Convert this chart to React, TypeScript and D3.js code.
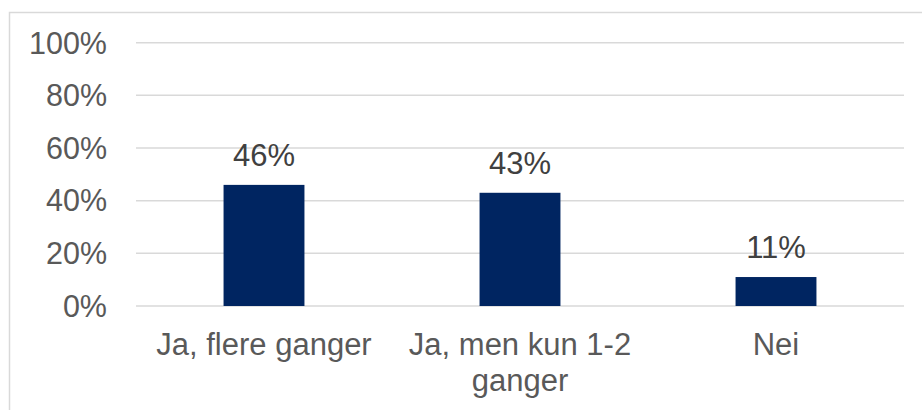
import React from "react";
import * as d3 from "d3";

const categories: string[][] = [["Ja, flere ganger"], ["Ja, men kun 1-2", "ganger"], ["Nei"]];
const values: number[] = [0.46, 0.43, 0.11];
const valueLabels: string[] = ["46%", "43%", "11%"];
const yTicks: number[] = [0, 0.2, 0.4, 0.6, 0.8, 1.0];

const W = 922;
const H = 410;
const FONT = "'Liberation Sans', Arial, sans-serif";

export default function App() {
  const x = d3
    .scaleBand<number>()
    .domain(categories.map((_, i) => i))
    .range([136, 904])
    .paddingInner(0.684)
    .paddingOuter(0.342);
  const y = d3.scaleLinear().domain([0, 1]).range([306, 42.7]);
  const fmt = d3.format(".0%");

  return (
    <svg
      width={W}
      height={H}
      style={{ position: "absolute", left: 0, top: 0, background: "#fff" }}
      fontFamily={FONT}
    >
      <rect x={9.5} y={12.5} width={W + 20} height={H + 20} fill="#fff" stroke="#d9d9d9" strokeWidth={1.5} />
      {yTicks.map((t) => (
        <g key={t}>
          <line x1={136} x2={904} y1={y(t)} y2={y(t)} stroke="#d9d9d9" strokeWidth={1.5} />
          <text x={107} y={y(t) + 10.8} textAnchor="end" fontSize={30.5} fill="#595959">
            {fmt(t)}
          </text>
        </g>
      ))}
      {values.map((v, i) => {
        const bx = x(i)!;
        const cx = bx + x.bandwidth() / 2;
        return (
          <g key={i}>
            <rect x={bx} y={y(v)} width={x.bandwidth()} height={y(0) - y(v)} fill="#002561" />
            <text x={cx} y={y(v) - 19} textAnchor="middle" fontSize={31} fill="#404040">
              {valueLabels[i]}
            </text>
            {categories[i].map((line, j) => (
              <text key={j} x={cx} y={355 + j * 36} textAnchor="middle" fontSize={31} fill="#595959">
                {line}
              </text>
            ))}
          </g>
        );
      })}
    </svg>
  );
}
